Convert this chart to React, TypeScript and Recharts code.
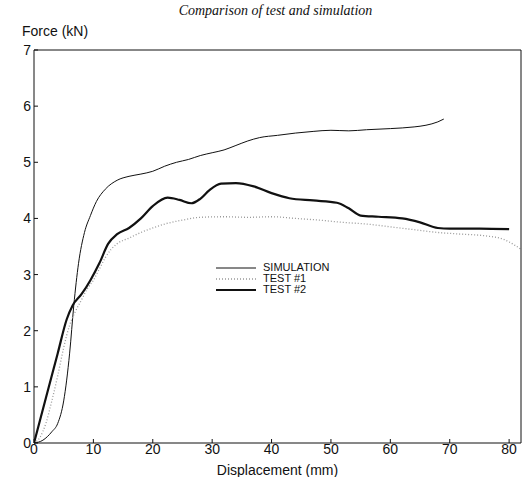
import React from "react";
import { LineChart, Line, XAxis, YAxis, Legend } from "recharts";

// displacement (mm) / force (kN)
const simDisp = [0, 1.5, 3, 4, 5, 6, 6.7, 7.5, 8.5, 9.5, 10.5, 12, 14, 16, 18, 20, 22, 24, 26, 28, 30, 32, 34, 36, 38, 41, 44, 47, 50, 53, 56, 60, 64, 66, 68, 69];
const simForce = [0, 0.05, 0.2, 0.35, 0.75, 1.6, 2.45, 3.2, 3.75, 4.05, 4.3, 4.52, 4.68, 4.75, 4.79, 4.84, 4.93, 5.0, 5.05, 5.12, 5.17, 5.22, 5.3, 5.38, 5.44, 5.48, 5.52, 5.55, 5.57, 5.56, 5.58, 5.6, 5.63, 5.66, 5.72, 5.77];

const test1Disp = [0, 1, 2, 3, 4, 5, 6, 7, 8, 9, 10, 11, 12, 13, 14, 16, 18, 20, 22, 25, 28, 32, 36, 40, 44, 48, 52, 56, 60, 64, 68, 72, 76, 79, 81, 82];
const test1Force = [0, 0.1, 0.35, 0.75, 1.2, 1.7, 2.1, 2.35, 2.55, 2.75, 2.9, 3.1, 3.3, 3.45, 3.55, 3.65, 3.75, 3.83, 3.9, 3.97, 4.02, 4.03, 4.02, 4.03, 4.0, 3.97, 3.93, 3.9, 3.85, 3.8, 3.75, 3.72, 3.69, 3.63, 3.52, 3.45];

const test2Disp = [0, 2, 4, 5.5, 6.5, 8, 9.5, 11, 12.5, 14, 16, 18, 20, 22.5, 24.5, 26.5, 28, 29.5, 31.5, 34, 37, 40, 43, 47, 51, 53, 55, 58, 62, 65, 68, 70, 75, 80];
const test2Force = [0, 0.8, 1.6, 2.2, 2.45, 2.65, 2.9, 3.2, 3.55, 3.72, 3.83, 4.0, 4.22, 4.37, 4.33, 4.27, 4.35, 4.5, 4.62, 4.63, 4.57, 4.45, 4.36, 4.32, 4.28, 4.18, 4.05, 4.03, 4.0, 3.93, 3.83, 3.82, 3.82, 3.81];

const xTicks = [0, 10, 20, 30, 40, 50, 60, 70, 80];
const yTicks = [0, 1, 2, 3, 4, 5, 6, 7];

const toPoints = (xs: number[], ys: number[]) => xs.map((x, i) => ({ x, y: ys[i] }));

const seriesStyle: Record<string, { stroke: string; width: number; dash?: string }> = {
  SIMULATION: { stroke: "#111", width: 1 },
  "TEST #1": { stroke: "#999", width: 1.3, dash: "1 2" },
  "TEST #2": { stroke: "#111", width: 2.2 },
};

const font = "'Liberation Sans Narrow', 'Liberation Sans', Arial, sans-serif";

function LegendBox({ payload }: any) {
  if (!payload?.length) return null;
  return (
    <div style={{ fontFamily: font, fontSize: 11, lineHeight: "11px", color: "#111" }}>
      {payload
        .filter((p: any) => seriesStyle[p.value])
        .map((p: any) => {
          const s = seriesStyle[p.value];
          return (
            <div key={p.value} style={{ display: "flex", alignItems: "center", height: 11 }}>
              <svg width={42} height={6}>
                <line x1={0} y1={3} x2={40} y2={3} stroke={s.stroke} strokeWidth={s.width} strokeDasharray={s.dash} />
              </svg>
              <span style={{ marginLeft: 5 }}>{p.value}</span>
            </div>
          );
        })}
    </div>
  );
}

export default function App() {
  const tickStyle = { fontFamily: font, fontSize: 14, fill: "#111" };
  const test2 = toPoints(test2Disp, test2Force);
  return (
    <div style={{ position: "absolute", left: 0, top: 0, width: 531, height: 477, background: "#fff" }}>
      <div
        style={{
          position: "absolute",
          left: 0,
          width: 531,
          top: 3,
          textAlign: "center",
          fontFamily: "'Liberation Serif', 'DejaVu Serif', serif",
          fontStyle: "italic",
          fontSize: 14,
          color: "#111",
          paddingLeft: 20,
          boxSizing: "border-box",
        }}
      >
        Comparison of test and simulation
      </div>
      <div style={{ position: "absolute", left: 22, top: 23, fontFamily: font, fontSize: 14, color: "#111" }}>
        Force (kN)
      </div>
      <LineChart width={531} height={477} margin={{ top: 49, right: 9, bottom: 0, left: 0 }}>
        <XAxis
          type="number"
          dataKey="x"
          domain={[0, 82]}
          ticks={xTicks}
          allowDataOverflow
          height={34}
          stroke="#111"
          tickSize={-4}
          tickMargin={5}
          tick={tickStyle}
          label={{ value: "Displacement (mm)", position: "insideBottom", offset: 2, style: { fontFamily: font, fontSize: 14, fill: "#111" } }}
        />
        <XAxis
          xAxisId="top"
          orientation="top"
          type="number"
          dataKey="x"
          domain={[0, 82]}
          ticks={xTicks}
          allowDataOverflow
          height={1}
          stroke="#111"
          tickSize={-4}
          tickMargin={0}
          tick={false}
        />
        <YAxis
          type="number"
          domain={[0, 7]}
          ticks={yTicks}
          width={34}
          stroke="#111"
          tickSize={-4}
          tickMargin={7}
          tick={tickStyle}
        />
        <YAxis
          yAxisId="right"
          orientation="right"
          type="number"
          domain={[0, 7]}
          ticks={yTicks}
          width={1}
          stroke="#111"
          tickSize={-4}
          tickMargin={0}
          tick={false}
        />
        <Legend
          layout="horizontal"
          verticalAlign="middle"
          align="center"
          content={<LegendBox />}
          wrapperStyle={{ position: "absolute", left: 216, top: 262, width: 130 }}
        />
        <Line
          data={toPoints(simDisp, simForce)}
          dataKey="y"
          name="SIMULATION"
          type="monotone"
          stroke="#111"
          strokeWidth={1}
          dot={false}
          isAnimationActive={false}
        />
        <Line
          data={toPoints(test1Disp, test1Force)}
          dataKey="y"
          name="TEST #1"
          type="monotone"
          stroke="#999"
          strokeWidth={1.3}
          strokeDasharray="1 2"
          dot={false}
          isAnimationActive={false}
        />
        <Line
          data={test2}
          dataKey="y"
          name="TEST #2"
          type="monotone"
          stroke="#111"
          strokeWidth={2.2}
          dot={false}
          isAnimationActive={false}
        />
        {/* invisible copy so the top and right frame axes get drawn */}
        <Line
          data={test2}
          dataKey="y"
          xAxisId="top"
          yAxisId="right"
          stroke="none"
          legendType="none"
          dot={false}
          activeDot={false}
          isAnimationActive={false}
        />
      </LineChart>
    </div>
  );
}
